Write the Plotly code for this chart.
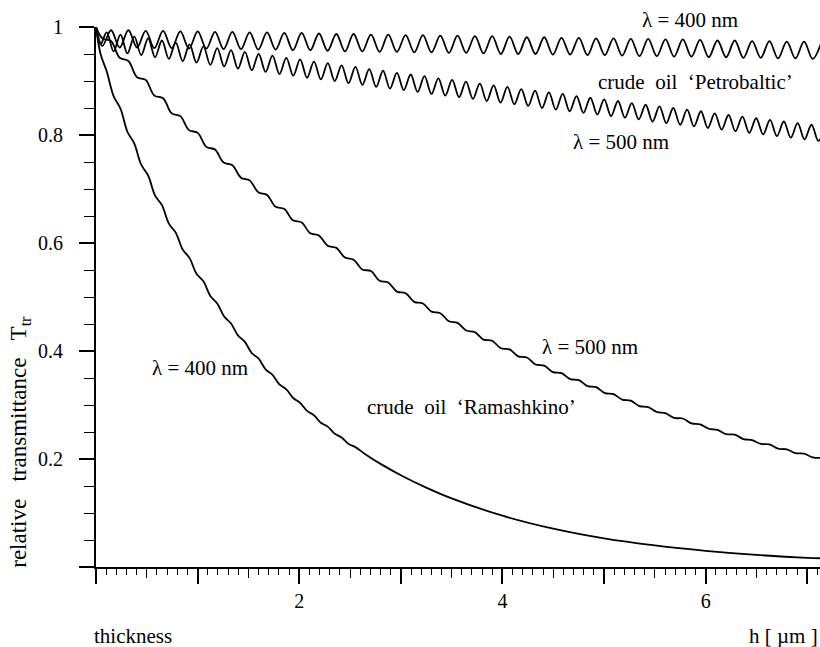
import plotly.graph_objects as go

# ---------------- data ----------------
# fringe positions (h in micrometres) for the longer-period curves
fringe_a_h = [0.0, 0.063, 0.148, 0.233, 0.319, 0.404, 0.489, 0.574, 0.660, 0.745, 0.830, 0.915,
              1.001, 1.086, 1.171, 1.256, 1.342, 1.427, 1.512, 1.597, 1.683, 1.768, 1.853, 1.938,
              2.024, 2.109, 2.194, 2.279, 2.365, 2.450, 2.535, 2.620, 2.706, 2.791, 2.876, 2.961,
              3.047, 3.132, 3.217, 3.302, 3.388, 3.473, 3.558, 3.643, 3.729, 3.814, 3.899, 3.984,
              4.070, 4.155, 4.240, 4.325, 4.411, 4.496, 4.581, 4.666, 4.752, 4.837, 4.922, 5.007,
              5.093, 5.178, 5.263, 5.348, 5.434, 5.519, 5.604, 5.689, 5.775, 5.860, 5.945, 6.030,
              6.116, 6.201, 6.286, 6.371, 6.457, 6.542, 6.627, 6.712, 6.798, 6.883, 6.968, 7.053,
              7.139]

# Petrobaltic, upper curve (label "λ = 400 nm")
petro_upper_T = [1.000, 0.965,
                 0.994, 0.962, 0.994, 0.962, 0.993, 0.961, 0.993, 0.961, 0.992, 0.960,
                 0.992, 0.960, 0.991, 0.959, 0.991, 0.959, 0.990, 0.958, 0.990, 0.958,
                 0.989, 0.957, 0.989, 0.957, 0.988, 0.956, 0.987, 0.955, 0.987, 0.955,
                 0.986, 0.954, 0.986, 0.954, 0.985, 0.953, 0.985, 0.953, 0.984, 0.952,
                 0.984, 0.952, 0.983, 0.951, 0.983, 0.950, 0.982, 0.950, 0.981, 0.950,
                 0.981, 0.949, 0.980, 0.949, 0.980, 0.948, 0.979, 0.948, 0.979, 0.947,
                 0.978, 0.946, 0.978, 0.946, 0.977, 0.945, 0.977, 0.945, 0.976, 0.944,
                 0.975, 0.944, 0.975, 0.943, 0.974, 0.943, 0.974, 0.942, 0.973, 0.942,
                 0.973, 0.941, 0.972]

# Ramashkino, "λ = 500 nm"
ram500_T = [1.000, 0.979,
            0.974, 0.943, 0.937, 0.907, 0.902, 0.873, 0.868, 0.840, 0.835, 0.809,
            0.804, 0.778, 0.773, 0.749, 0.744, 0.721, 0.716, 0.694, 0.689, 0.667,
            0.663, 0.642, 0.638, 0.618, 0.614, 0.595, 0.591, 0.573, 0.569, 0.551,
            0.548, 0.530, 0.527, 0.510, 0.507, 0.491, 0.488, 0.473, 0.470, 0.455,
            0.452, 0.438, 0.435, 0.421, 0.419, 0.405, 0.403, 0.390, 0.388, 0.375,
            0.373, 0.361, 0.359, 0.348, 0.346, 0.335, 0.333, 0.322, 0.320, 0.310,
            0.308, 0.298, 0.296, 0.287, 0.285, 0.276, 0.275, 0.266, 0.264, 0.256,
            0.254, 0.246, 0.245, 0.237, 0.235, 0.228, 0.227, 0.219, 0.218, 0.211,
            0.210, 0.203, 0.202]

# fringe positions for the shorter-period curves
fringe_b_h = [0.0, 0.045,
              0.105, 0.173, 0.241, 0.309, 0.377, 0.445, 0.513, 0.581, 0.649, 0.717,
              0.785, 0.853, 0.921, 0.989, 1.057, 1.125, 1.193, 1.261, 1.329, 1.397,
              1.465, 1.533, 1.601, 1.669, 1.737, 1.805, 1.873, 1.941, 2.009, 2.077,
              2.145, 2.213, 2.281, 2.349, 2.417, 2.485, 2.553, 2.621, 2.689, 2.757,
              2.825, 2.893, 2.961, 3.029, 3.097, 3.165, 3.233, 3.301, 3.369, 3.437,
              3.505, 3.573, 3.641, 3.709, 3.777, 3.845, 3.913, 3.981, 4.049, 4.117,
              4.185, 4.253, 4.321, 4.389, 4.457, 4.525, 4.593, 4.661, 4.729, 4.797,
              4.865, 4.933, 5.001, 5.069, 5.137, 5.205, 5.273, 5.341, 5.409, 5.477,
              5.545, 5.613, 5.681, 5.749, 5.817, 5.885, 5.953, 6.021, 6.089, 6.157,
              6.225, 6.293, 6.361, 6.429, 6.497, 6.565, 6.633, 6.701, 6.769, 6.837,
              6.905, 6.973, 7.041, 7.109, 7.177]

# Petrobaltic, lower curve (label "λ = 500 nm")
petro_lower_T = [1.000, 0.968,
                 0.990, 0.955, 0.986, 0.951, 0.982, 0.948, 0.979, 0.944, 0.975, 0.941,
                 0.971, 0.937, 0.968, 0.934, 0.964, 0.930, 0.961, 0.927, 0.957, 0.923,
                 0.954, 0.920, 0.950, 0.917, 0.947, 0.913, 0.943, 0.910, 0.940, 0.906,
                 0.936, 0.903, 0.933, 0.900, 0.929, 0.896, 0.926, 0.893, 0.922, 0.889,
                 0.919, 0.886, 0.915, 0.883, 0.912, 0.880, 0.909, 0.876, 0.905, 0.873,
                 0.902, 0.870, 0.899, 0.867, 0.895, 0.863, 0.892, 0.860, 0.889, 0.857,
                 0.885, 0.854, 0.882, 0.850, 0.879, 0.847, 0.876, 0.844, 0.872, 0.841,
                 0.869, 0.838, 0.866, 0.835, 0.863, 0.832, 0.859, 0.829, 0.856, 0.825,
                 0.853, 0.822, 0.850, 0.819, 0.847, 0.816, 0.844, 0.813, 0.840, 0.810,
                 0.837, 0.807, 0.834, 0.804, 0.831, 0.801, 0.828, 0.798, 0.825, 0.795,
                 0.822, 0.792, 0.819, 0.789, 0.816]

# Ramashkino, "λ = 400 nm"
ram400_h = [0.0, 0.045,
            0.105, 0.173, 0.241, 0.309, 0.377, 0.445, 0.513, 0.581, 0.649, 0.717,
            0.785, 0.853, 0.921, 0.989, 1.057, 1.125, 1.193, 1.261, 1.329, 1.397,
            1.465, 1.533, 1.601, 1.669, 1.737, 1.805, 1.873, 1.941, 2.009, 2.077,
            2.145, 2.213, 2.281, 2.349, 2.417, 2.485, 2.553,
            2.65, 2.8, 3.0, 3.25, 3.5, 4.0, 4.5, 5.0, 5.5, 6.0, 6.5, 7.0, 7.2]
ram400_T = [1.000, 0.950,
            0.918, 0.872, 0.849, 0.806, 0.784, 0.745, 0.725, 0.688, 0.670, 0.636,
            0.619, 0.588, 0.572, 0.543, 0.529, 0.502, 0.488, 0.464, 0.451, 0.429,
            0.417, 0.396, 0.386, 0.366, 0.356, 0.338, 0.329, 0.313, 0.304, 0.289,
            0.281, 0.267, 0.260, 0.247, 0.240, 0.228, 0.222,
            0.209, 0.191, 0.170, 0.147, 0.127, 0.095, 0.071, 0.053, 0.040, 0.030,
            0.0224, 0.0170, 0.0158]

# axis ticks
x_major_vals = [0, 1, 2, 3, 4, 5, 6, 7]
x_major_text = ["", "", "2", "", "4", "", "6", ""]
x_half_vals = [0.5, 1.5, 2.5, 3.5, 4.5, 5.5, 6.5]
y_major_vals = [0, 0.2, 0.4, 0.6, 0.8, 1.0]
y_major_text = ["", "0.2", "0.4", "0.6", "0.8", "1"]

# ---------------- figure ----------------
FONT = "Liberation Serif, Times New Roman, DejaVu Serif, serif"
XMAX = 7.125
SP = "\u00a0" * 3

fig = go.Figure()
line_style = dict(color="black", width=1.8, shape="spline", smoothing=1.0)
for hx, ty in [(fringe_a_h, petro_upper_T), (fringe_b_h, petro_lower_T),
               (fringe_a_h, ram500_T), (ram400_h, ram400_T)]:
    fig.add_trace(go.Scatter(x=hx, y=ty, mode="lines", line=line_style,
                             hoverinfo="skip", showlegend=False))

# invisible trace so that the half-unit tick axis is drawn
fig.add_trace(go.Scatter(x=[0], y=[0], xaxis="x2", yaxis="y", mode="markers",
                         marker=dict(opacity=0), hoverinfo="skip", showlegend=False))

fig.update_layout(
    width=820, height=647,
    margin=dict(l=96, r=0, t=27, b=80),
    paper_bgcolor="white", plot_bgcolor="white",
    font=dict(family=FONT, color="black", size=20),
    xaxis=dict(range=[0, XMAX], showgrid=False, zeroline=False,
               showline=True, linecolor="black", linewidth=2,
               tickmode="array", tickvals=x_major_vals, ticktext=x_major_text,
               ticks="outside", ticklen=15, tickwidth=1.6, tickcolor="black",
               tickfont=dict(family=FONT, size=20, color="black"),
               ticklabelstandoff=0,
               minor=dict(tick0=0, dtick=0.1, ticks="outside", ticklen=6,
                          tickwidth=1.3, tickcolor="black", showgrid=False)),
    xaxis2=dict(range=[0, XMAX], overlaying="x", anchor="y", side="bottom",
                showgrid=False, zeroline=False, showline=False,
                tickmode="array", tickvals=x_half_vals, showticklabels=False,
                ticks="outside", ticklen=10, tickwidth=1.4, tickcolor="black"),
    yaxis=dict(range=[0, 1], showgrid=False, zeroline=False,
               showline=True, linecolor="black", linewidth=2,
               tickmode="array", tickvals=y_major_vals, ticktext=y_major_text,
               ticks="outside", ticklen=15, tickwidth=1.6, tickcolor="black",
               tickfont=dict(family=FONT, size=20, color="black"),
               ticklabelstandoff=12,
               minor=dict(tick0=0, dtick=0.05, ticks="outside", ticklen=10,
                          tickwidth=1.3, tickcolor="black", showgrid=False)),
)

ann_font = dict(family=FONT, size=21, color="black")
labels = [
    ("crude\u00a0\u00a0oil\u00a0\u00a0‘Petrobaltic’", 5.896, 0.898),
    ("λ = 500 nm", 5.167, 0.787),
    ("λ = 500 nm", 4.862, 0.407),
    ("crude\u00a0\u00a0oil\u00a0\u00a0‘Ramashkino’", 3.691, 0.296),
    ("λ = 400 nm", 1.024, 0.369),
]
for txt, xx, yy in labels:
    fig.add_annotation(text=txt, x=xx, y=yy, xref="x", yref="y", showarrow=False,
                       font=ann_font, xanchor="center", yanchor="middle")

# label above the plotting area
fig.add_annotation(text="λ = 400 nm", x=5.846 / XMAX, y=1.013, xref="paper", yref="paper",
                   showarrow=False, font=ann_font, xanchor="center", yanchor="middle")

fig.add_annotation(text="thickness", x=-0.006, y=-0.128, xref="paper", yref="paper",
                   showarrow=False, font=ann_font, xanchor="left", yanchor="middle")
fig.add_annotation(text="h [ µm ]", x=1.0, y=-0.128, xref="paper", yref="paper",
                   showarrow=False, font=ann_font, xanchor="right", yanchor="middle")
fig.add_annotation(text="relative" + SP + "transmittance" + SP + "T<sub>tr</sub>",
                   x=-0.106, y=0.2324, xref="paper", yref="paper", textangle=-90,
                   showarrow=False, font=dict(family=FONT, size=23, color="black"),
                   xanchor="center", yanchor="middle")

fig.write_html("out.html")
